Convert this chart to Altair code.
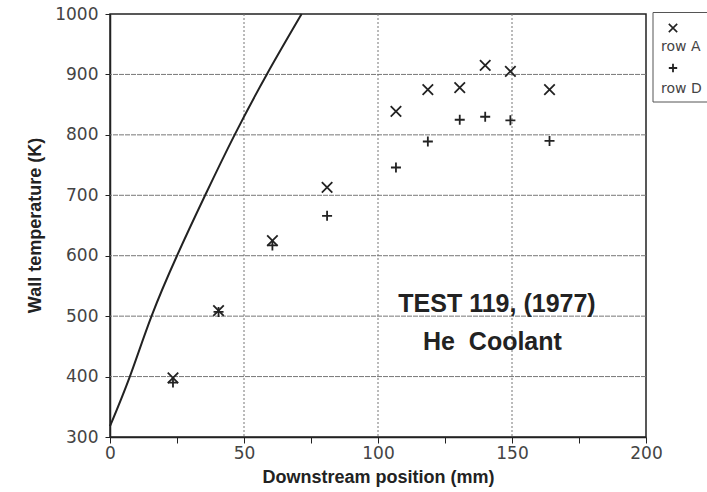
import altair as alt
import pandas as pd

# Data
pos_A = [23.5, 40.5, 60.6, 81, 106.7, 118.6, 130.5, 140, 149.4, 164]
temp_A = [398, 509, 625, 713, 839, 875, 878, 915, 905, 875]
pos_D = [23.5, 40.5, 60.6, 81, 106.7, 118.6, 130.5, 140, 149.4, 164]
temp_D = [390, 507, 617, 666, 746, 789, 825, 830, 824, 790]

curve_x = [0, 7.4, 15.5, 25, 35.5, 46.5, 58.5, 71.5]
curve_y = [318, 400, 500, 600, 700, 800, 900, 1000]

x_ticks = [0, 25, 50, 75, 100, 125, 150, 175, 200]
y_ticks = [300, 400, 500, 600, 700, 800, 900, 1000]
x_grid = [50, 100, 150]
y_grid = [400, 500, 600, 700, 800, 900]

notes = ["TEST 119, (1977)", "He\u00a0\u00a0Coolant"]
note_x = [144.4, 142.7]
note_y = [507, 444]

X_PATH = "M-1,-1L1,1M-1,1L1,-1"
P_PATH = "M-1,0L1,0M0,-1L0,1"
INK = "#222222"

pts = pd.DataFrame({
    "pos": pos_A + pos_D,
    "temp": temp_A + temp_D,
    "series": ["row A"] * len(pos_A) + ["row D"] * len(pos_D),
})
curve = pd.DataFrame({"pos": curve_x, "temp": curve_y})
notes_df = pd.DataFrame({"label": notes, "pos": note_x, "temp": note_y})

xscale = alt.Scale(domain=[0, 200], nice=False, zero=False)
yscale = alt.Scale(domain=[300, 1000], nice=False, zero=False)

base_x_axis = alt.Axis(
    values=x_ticks, format="d", labelFlush=False,
    labelExpr="datum.value % 50 == 0 ? datum.label : ''",
    grid=False, tickSize=6, tickColor=INK, domainColor=INK, domainWidth=1.5,
    labelFont="DejaVu Sans", labelFontSize=17, labelColor="#444444", labelPadding=2,
    title="Downstream position (mm)", titleFont="Liberation Sans", titleFontSize=18,
    titleFontWeight="bold", titleColor=INK, titleX=268, titleY=40, titleBaseline="middle",
)
base_y_axis = alt.Axis(
    values=y_ticks, format="d", labelFlush=False, grid=False, tickSize=5, tickColor=INK,
    domainColor=INK, domainWidth=1.5,
    labelFont="DejaVu Sans", labelFontSize=17, labelColor="#444444", labelPadding=7,
    title="Wall temperature (K)", titleFont="Liberation Sans", titleFontSize=18,
    titleFontWeight="bold", titleColor=INK, titleX=-75, titleY=211, titleBaseline="middle",
)

vgrid = alt.Chart(pd.DataFrame({"g": x_grid})).mark_rule(
    color="#777777", strokeWidth=1, strokeDash=[2, 2]
).encode(x=alt.X("g:Q", scale=xscale, axis=base_x_axis))

hgrid = alt.Chart(pd.DataFrame({"g": y_grid})).mark_rule(
    color="#777777", strokeWidth=1, strokeDash=[5, 1]
).encode(y=alt.Y("g:Q", scale=yscale, axis=base_y_axis))

line = alt.Chart(curve).mark_line(
    color=INK, strokeWidth=2, interpolate="natural"
).encode(
    x=alt.X("pos:Q", scale=xscale),
    y=alt.Y("temp:Q", scale=yscale),
    order="pos:Q",
)

points = alt.Chart(pts).mark_point(filled=False, strokeWidth=1.8, color=INK, opacity=1).encode(
    x=alt.X("pos:Q", scale=xscale),
    y=alt.Y("temp:Q", scale=yscale),
    shape=alt.Shape("series:N", scale=alt.Scale(domain=["row A", "row D"], range=[X_PATH, P_PATH]), legend=None),
    size=alt.Size("series:N", scale=alt.Scale(domain=["row A", "row D"], range=[110, 100]), legend=None),
)

text = alt.Chart(notes_df).mark_text(
    font="Liberation Sans", fontSize=25, fontWeight="bold", color=INK, align="center", baseline="alphabetic"
).encode(
    x=alt.X("pos:Q", scale=xscale),
    y=alt.Y("temp:Q", scale=yscale),
    text="label:N",
)

# Hand-built legend box (symbol above its label, as in the reference)
one = pd.DataFrame({"a": [0]})
leg_box = alt.Chart(one).mark_rect(fill="white", stroke="#555555", strokeWidth=1).encode(
    x=alt.value(543), x2=alt.value(640), y=alt.value(-1.5), y2=alt.value(88)
)
leg_sym_a = alt.Chart(one).mark_point(shape=X_PATH, size=70, filled=False, strokeWidth=1.6, color=INK, opacity=1).encode(
    x=alt.value(563), y=alt.value(14)
)
leg_sym_d = alt.Chart(one).mark_point(shape=P_PATH, size=70, filled=False, strokeWidth=1.8, color=INK, opacity=1).encode(
    x=alt.value(563), y=alt.value(54)
)
leg_txt_a = alt.Chart(one).mark_text(font="DejaVu Sans", fontSize=14, color="#444444", align="left").encode(
    x=alt.value(551), y=alt.value(33), text=alt.value("row A")
)
leg_txt_d = alt.Chart(one).mark_text(font="DejaVu Sans", fontSize=14, color="#444444", align="left").encode(
    x=alt.value(551), y=alt.value(75), text=alt.value("row D")
)

chart = alt.layer(
    vgrid, hgrid, line, points, text, leg_box, leg_sym_a, leg_sym_d, leg_txt_a, leg_txt_d
).properties(
    width=536, height=423,
    autosize=alt.AutoSizeParams(type="none"),
    padding={"left": 110, "top": 14, "right": 61, "bottom": 55},
    background="white",
).configure_view(
    stroke=INK, strokeWidth=1.5
)

chart.save("out.html", embed_options={"renderer": "svg", "actions": False})
